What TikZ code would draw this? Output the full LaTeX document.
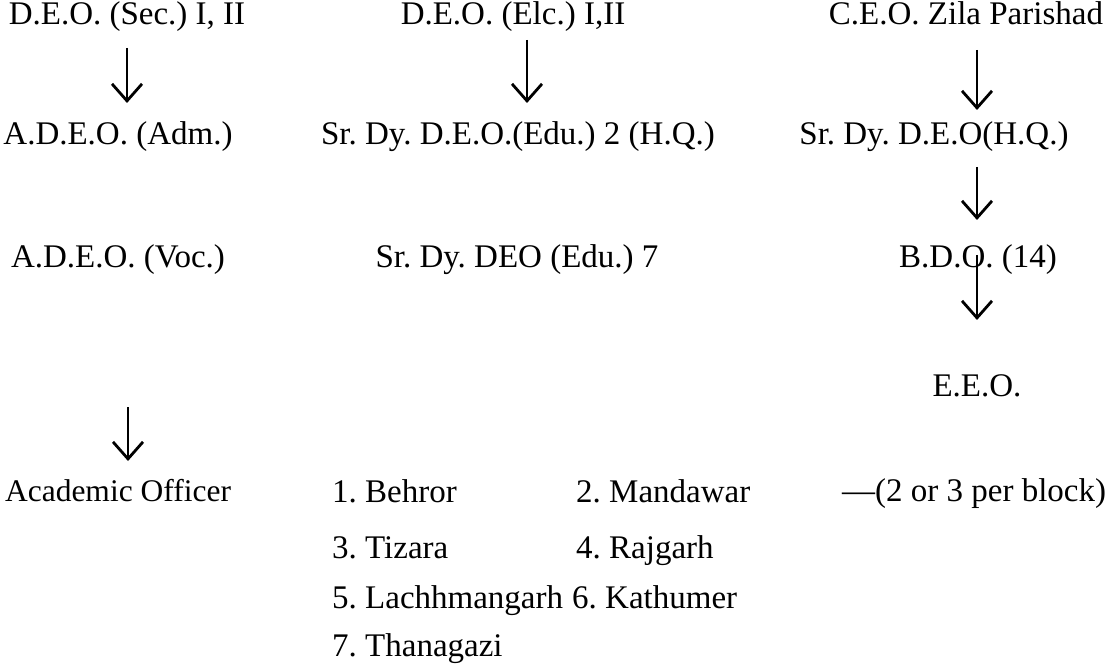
\documentclass[tikz,border=0pt]{standalone}
\usepackage{fontspec}
\setmainfont{Liberation Serif}
\usetikzlibrary{arrows.meta,positioning,calc}

\begin{document}
\frenchspacing
\begin{tikzpicture}[x=1pt, y=-1pt, font=\fontsize{33}{39}\selectfont,
    lbl/.style={inner sep=0pt, text height=0.75em, text depth=0.25em},
    item/.style={lbl, anchor=west},
    arr/.style={-{Straight Barb[length=17pt,width=30pt,line width=2.8pt]}, line width=1.9pt}]
  \useasboundingbox (0,0) rectangle (1120,671);
  % first level
  \node[lbl] (deosec) at (127,22) {D.E.O. (Sec.) I, II};
  \node[lbl] (deoelc) at (513,22) {D.E.O. (Elc.) I,II};
  \node[lbl] (ceo) at (966,22) {C.E.O. Zila Parishad};
  % second level
  \node[lbl] (adeoadm) at (118,142) {A.D.E.O. (Adm.)};
  \node[lbl] (srdyhq) at (518,142) {Sr. Dy. D.E.O.(Edu.) 2 (H.Q.)};
  \node[lbl] (srdyceo) at (934,142) {Sr. Dy. D.E.O(H.Q.)};
  % third level
  \node[lbl] (adeovoc) at (118,265) {A.D.E.O. (Voc.)};
  \node[lbl] (srdyedu) at (517,265) {Sr. Dy. DEO (Edu.) 7};
  \node[lbl] (bdo) at (978,265) {B.D.O. (14)};
  \node[lbl] (eeo) at (977,394) {E.E.O.};
  % bottom rows
  \node[lbl, font=\fontsize{31.5}{37}\selectfont] (acad) at (118,499) {Academic Officer};
  \node[item] (blk1) at (332,500) {1. Behror};
  \node[item] (blk2) at (576,500) {2. Mandawar};
  \node[item] (blk3) at (332,556) {3. Tizara};
  \node[item] (blk4) at (576,556) {4. Rajgarh};
  \node[item] (blk5) at (332,606) {5. Lachhmangarh};
  \node[item] (blk6) at (572,606) {6. Kathumer};
  \node[item] (blk7) at (332,654) {7. Thanagazi};
  \node[item] (perblk) at (842,499) {\textemdash(2 or 3 per block)};
  \coordinate (voctail) at (128,407);

  \draw[arr] ($(deosec)+(0,26)$) -- ($(deosec |- adeoadm)+(0,-39)$);
  \draw[arr] ($(deoelc)+(14,18)$) -- ($(deoelc |- srdyhq)+(14,-39)$);
  \draw[arr] ($(eeo |- ceo)+(0,28)$) -- ($(eeo |- srdyceo)+(0,-32)$);
  \draw[arr] ($(eeo |- srdyceo)+(0,25)$) -- ($(eeo |- bdo)+(0,-45)$);
  \draw[arr] ($(eeo |- bdo)+(0,-10)$) -- ($(eeo)+(0,-74)$);
  \draw[arr] (voctail) -- ($(voctail |- acad)+(0,-38)$);
\end{tikzpicture}
\end{document}
